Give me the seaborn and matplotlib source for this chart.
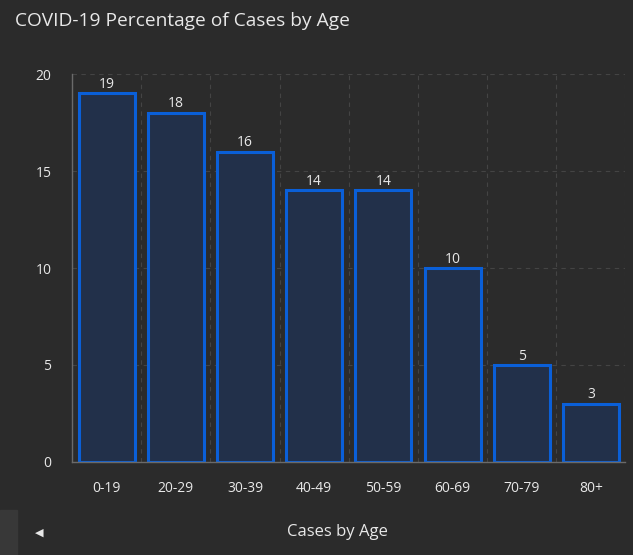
import numpy as np
import pandas as pd
import matplotlib
matplotlib.use("Agg")
import matplotlib.pyplot as plt
import seaborn as sns

sns.set_style("dark")
plt.rcParams['font.family'] = ['Open Sans', 'DejaVu Sans']

# data
age_groups = ["0-19", "20-29", "30-39", "40-49", "50-59", "60-69", "70-79", "80+"]
pct_cases = [19, 18, 16, 14, 14, 10, 5, 3]

df = pd.DataFrame({"age": age_groups, "pct": pct_cases})

bg = "#2b2b2b"
txt = "#e8e8e8"
grid_c = "#444444"

fig = plt.figure(figsize=(6.33, 5.55), dpi=100, facecolor=bg)
ax = fig.add_axes([0.114, 0.1676, 0.874, 0.699])
ax.set_facecolor(bg)

sns.barplot(data=df, x="age", y="pct", ax=ax, color="#22304a", width=0.81,
            edgecolor="#0a5fd8", linewidth=2.2, saturation=1)

for c in ax.containers:
    ax.bar_label(c, labels=[str(v) for v in pct_cases], padding=1,
                 color=txt, fontsize=10)

ax.set_xlim(-0.5, 7.5)
ax.set_ylim(0, 20)
ax.set_yticks([0, 5, 10, 15, 20])
ax.set_xticks(np.arange(-0.5, 8, 1), minor=True)

ax.grid(axis="y", which="major", color=grid_c, linestyle=(0, (4, 4)), linewidth=0.8)
ax.grid(axis="x", which="minor", color=grid_c, linestyle=(0, (4, 4)), linewidth=0.8)
ax.grid(axis="x", which="major", visible=False)
ax.set_axisbelow(True)

for s in ["top", "right"]:
    ax.spines[s].set_visible(False)
for s in ["left", "bottom"]:
    ax.spines[s].set_visible(True)
    ax.spines[s].set_color("#6a6a6a")
    ax.spines[s].set_linewidth(1)

ax.tick_params(axis="both", which="major", colors="#6a6a6a", length=5, width=1,
               labelcolor=txt, labelsize=10, pad=9)
ax.tick_params(axis="y", pad=10)
ax.tick_params(which="minor", length=0)

ax.set_ylabel("")
ax.set_xlabel("")
fig.text(337 / 633, 1 - 532 / 555, "Cases by Age", color=txt, fontsize=12,
         ha="center", va="center")

fig.text(0.024, 0.963, "COVID-19 Percentage of Cases by Age", color=txt,
         fontsize=13.8, ha="left", va="center")

# bottom-left nav stub
fig.patches.append(plt.Rectangle((0, 0), 0.027, 0.081, transform=fig.transFigure,
                                 color="#383838", zorder=0))
fig.text(0.062, 0.04, "\u25c0", color=txt, fontsize=8, ha="center", va="center",
         family="DejaVu Sans")

fig.savefig("out.png", dpi=100, facecolor=bg)
